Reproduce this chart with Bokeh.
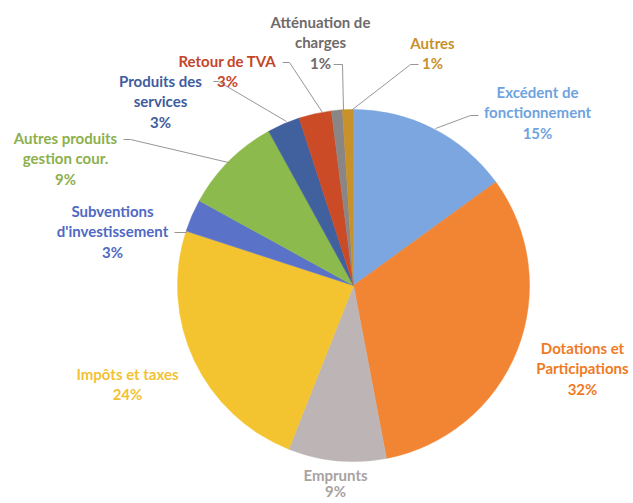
import numpy as np
from bokeh.plotting import figure
from bokeh.models import Range1d, ColumnDataSource
from bokeh.core.properties import value
from bokeh.embed import file_html
from bokeh.resources import INLINE

# ---- data (clockwise from 12 o'clock) ----
categories = ["Excédent de\nfonctionnement", "Dotations et\nParticipations", "Emprunts",
              "Impôts et taxes", "Subventions\nd'investissement", "Autres produits\ngestion cour.",
              "Produits des\nservices", "Retour de TVA", "Atténuation de\ncharges", "Autres"]
percentages = [15, 32, 9, 24, 3, 9, 3, 3, 1, 1]
slice_colors = ["#7BA6E0", "#F28533", "#BDB5B5", "#F4C430", "#5A73C8",
                "#8CBA4C", "#41609E", "#CB4B26", "#8B8686", "#C9912A"]
label_colors = ["#6FA3DF", "#F07A24", "#A8A2A2", "#F2C232", "#5069C4",
                "#8CB04C", "#3F5CA0", "#C4462A", "#6F6A6A", "#C8902C"]

W, H = 633, 503
CX, CY, R = 353, 285, 176   # pixel layout of the pie

# label anchor (center x, first line y) in pixels
label_pos = [(537, 91), (582, 347), (335, 474), (127, 373), (112, 210),
             (65, 137), (160, 80), (227, 60), (320, 21), (432, 42)]
line_h = [20.5, 20.5, 16.0, 20.5, 20.5, 20.5, 20.5, 20.5, 20.5, 20.5]

leaders = [
    [(478, 115), (470, 115), (435, 128)],
    None,
    None,
    None,
    [(174, 232), (186, 232)],
    [(123, 139), (130, 139), (228, 162)],
    [(213, 81), (218, 81), (286, 121)],
    [(282, 62), (289, 62), (322, 112)],
    [(333, 64), (342, 64), (343, 110)],
    [(418, 64), (410, 64), (352, 109)],
]

p = figure(width=W, height=H, output_backend="svg", toolbar_location=None,
           x_range=Range1d(0, W), y_range=Range1d(0, H), min_border=0)
p.axis.visible = False
p.grid.visible = False
p.outline_line_color = None
p.background_fill_color = "white"
p.border_fill_color = "white"

vals = np.array(percentages, dtype=float)
frac = vals / vals.sum()
cum = np.concatenate([[0], np.cumsum(frac)])
start = np.pi / 2 - cum[1:] * 2 * np.pi
end = np.pi / 2 - cum[:-1] * 2 * np.pi

src = ColumnDataSource(dict(start=start, end=end, color=slice_colors))
p.wedge(x=CX, y=H - CY, radius=R, start_angle="start", end_angle="end",
        direction="anticlock", fill_color="color", line_color="color",
        line_width=0.5, source=src)

# leader lines
for pts in leaders:
    if pts:
        p.line([q[0] for q in pts], [H - q[1] for q in pts],
               line_color="#8A8A8A", line_width=0.9)

# labels
xs, ys, txt, cols = [], [], [], []
for cat, pct, (lx, ly), col, lh in zip(categories, percentages, label_pos, label_colors, line_h):
    lines = cat.split("\n") + [f"{pct}%"]
    for i, ln in enumerate(lines):
        xs.append(lx)
        ys.append(H - (ly + i * lh))
        txt.append(ln)
        cols.append(col)

tsrc = ColumnDataSource(dict(x=xs, y=ys, text=txt, color=cols))
p.text(x="x", y="y", text="text", text_color="color", source=tsrc,
       text_font=value("Lato"), text_font_style="bold", text_font_size="15px",
       text_align="center", text_baseline="middle")

open("out.html", "w").write(file_html(p, INLINE))
